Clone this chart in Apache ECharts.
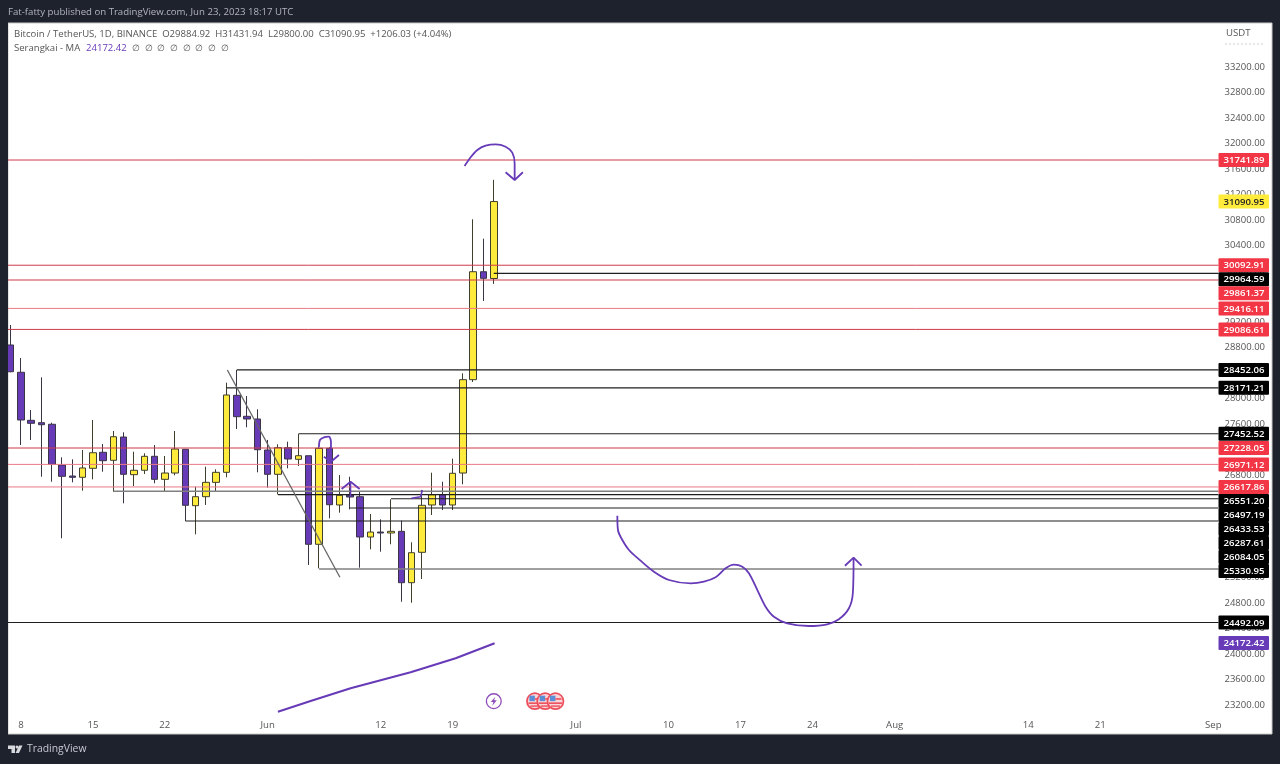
<!DOCTYPE html>
<html>
<head>
<meta charset="utf-8">
<title>BTCUSDT</title>
<script src="https://cdn.jsdelivr.net/npm/echarts@6/dist/echarts.min.js"></script>
<style>
html, body { margin: 0; padding: 0; background: #1e222d; }
#main { width: 1280px; height: 764px; }
</style>
</head>
<body>
<div id="main"></div>
<script>
// candle values, May 7 to Jun 23 2023
var opens = [28843, 28415, 27662, 27625, 27600, 26962, 26789, 26769, 26910, 27161, 27035, 27400,
    26810, 26879, 27098, 26737, 26836, 27208, 26324, 26465, 26690, 26847, 28054, 27725,
    27683, 27197, 26816, 27233, 27051, 27107, 25719, 27223, 26335, 26491, 26465, 25833,
    25911, 25896, 25922, 25117, 25593, 26335, 26496, 26335, 26836, 28299, 29991, 29884.92];
var closes = [28424, 27667, 27615, 27593, 26973, 26784, 26769, 26915, 27154, 27029, 27405, 26816,
    26879, 27098, 26737, 26836, 27212, 26330, 26465, 26690, 26847, 28059, 27719, 27683,
    27201, 26816, 27233, 27056, 27107, 25719, 27223, 26339, 26487, 26460, 25833, 25911,
    25896, 25922, 25117, 25587, 26330, 26496, 26335, 26832, 28299, 29991, 29888, 31090.95];
var lows = [28415, 27275, 27354, 26778, 26700, 25813, 26690, 26559, 26737, 26857, 26543, 26361,
    26632, 26821, 26675, 26543, 26800, 26084, 25875, 26335, 26543, 26769, 27526, 27553,
    26847, 26606, 26502, 26910, 26946, 25394, 25342, 26126, 26214, 26267, 25352, 25640,
    25603, 25719, 24819, 24803, 25175, 26178, 26256, 26256, 26659, 28263, 29532, 29800];
var highs = [29156, 28639, 27824, 28336, 27625, 27082, 27051, 27197, 27667, 27291, 27495, 27474,
    27170, 27145, 27275, 27103, 27495, 27212, 26622, 26935, 26894, 28252, 28451, 28043,
    27835, 27354, 27286, 27327, 27447, 27107, 27240, 27240, 26805, 26778, 26543, 26194,
    26110, 26424, 26089, 25750, 26570, 26841, 26700, 27060, 28399, 30813, 30509, 31431.94];

// x axis, one category per day
var firstDay = Date.UTC(2023, 4, 7);
var dayCount = 118;
var tickDates = ['05-08', '05-15', '05-22', '06-01', '06-12', '06-19', '07-01', '07-10', '07-17', '07-24', '08-01', '08-14', '08-21', '09-01'];
var tickLabels = ['8', '15', '22', 'Jun', '12', '19', 'Jul', '10', '17', '24', 'Aug', '14', '21', 'Sep'];

// price levels; starts are day indexes, -0.5 is the left edge
var redLevels = [31741.89, 30092.91, 29861.37, 29416.11, 29086.61, 27228.05, 26971.12, 26617.86];
var blackLevels = [29964.59, 28452.06, 28171.21, 27452.52, 26497.19, 26433.53, 26287.61, 26084.05, 24492.09];
var blackStarts = [47, 22, 21, 28, 26, 37, 33, 17, -0.5];
var greyLevels = [26551.20, 25330.95];
var greyStarts = [10, 30];
var lastClose = 31090.95;
var maValue = 24172.42;

// moving average, [day index, price]
var maLine = [[26, 23095], [29.18, 23263], [33.07, 23462], [38.91, 23713], [43.29, 23932], [47.08, 24167]];

// hand drawn marks, [day index, price]
var trendLine = [[21.08, 28451], [32.03, 25202]];
var topCurve = [[44.16, 31648], [44.75, 31785], [45.4, 31899], [46.2, 31966], [47.18, 31988], [48.15, 31951], [48.8, 31857], [49.03, 31691], [49.03, 31429]];
var topArrow = [[48.15, 31550], [49.03, 31429], [49.83, 31550]];
var waveCurve = [[59.02, 26167], [59.08, 25943], [59.41, 25813], [60.15, 25629], [61.28, 25462], [62.58, 25289], [64.04, 25159],
    [66.15, 25107], [67.44, 25132], [68.58, 25201], [69.55, 25342], [70.36, 25399], [71.18, 25368], [71.82, 25264], [72.64, 25002],
    [73.44, 24741], [74.25, 24584], [75.55, 24480], [77.65, 24438], [79.44, 24465], [80.57, 24543], [81.55, 24716], [81.93, 24951], [82, 25499]];
var waveArrow = [[81.16, 25383], [82, 25509], [82.78, 25383]];
var hookCurve = [[29.99, 27239], [30.09, 27354], [30.48, 27396], [30.96, 27405], [31.16, 27327], [31.16, 27013]];
var hookArrow = [[30.48, 27092], [31.16, 27013], [31.94, 27118]];
var smallShaft = [[33.07, 26476], [33.07, 26700]];
var smallArrow = [[32.2, 26585], [33.07, 26700], [33.95, 26585]];
var smallTick = [[38.98, 26439], [39.88, 26465], [40.05, 26570]];

// event icons
var boltDays = [47];
var flagDays = [51, 52, 53];
var iconPrice = 23260;

var categories = [];
for (var i = 0; i < dayCount; i++) {
    categories.push(new Date(firstDay + i * 86400000).toISOString().slice(5, 10));
}

var candles = [];
for (var i = 0; i < opens.length; i++) {
    candles.push([opens[i], closes[i], lows[i], highs[i]]);
}

var PURPLE = '#673ab7';
var FONT = '"Open Sans", "Noto Sans", sans-serif';

function drawing(data, color, width, smooth) {
    return {
        type: 'line',
        xAxisIndex: 1,
        yAxisIndex: 0,
        data: data,
        smooth: smooth ? 0.3 : false,
        symbol: 'none',
        silent: true,
        z: 5,
        lineStyle: {color: color, width: width}
    };
}

var series = [{
    type: 'candlestick',
    xAxisIndex: 0,
    yAxisIndex: 0,
    data: candles,
    barWidth: 7,
    z: 3,
    itemStyle: {
        color: '#ffeb3b',
        color0: PURPLE,
        borderColor: '#3f3f2c',
        borderColor0: '#3a3546',
        borderWidth: 1
    }
}];

// rays running out to the price scale
redLevels.forEach(function (p, i) {
    var pale = i === 3 || i === 6 || i === 7;
    series.push(drawing([[-0.5, p], [117.5, p]], pale ? '#e97a86' : '#cf3a4b', 1));
});
blackLevels.forEach(function (p, i) {
    series.push(drawing([[blackStarts[i], p], [117.5, p]], '#1f1f1f', 1.1));
});
greyLevels.forEach(function (p, i) {
    series.push(drawing([[greyStarts[i], p], [117.5, p]], '#808080', 1.6));
});

series.push(drawing(trendLine, '#666666', 1.3));
series.push(drawing(maLine, PURPLE, 2));
series.push(drawing(topCurve, PURPLE, 1.8, true));
series.push(drawing(topArrow, PURPLE, 1.8));
series.push(drawing(waveCurve, PURPLE, 1.8, true));
series.push(drawing(waveArrow, PURPLE, 1.8));
series.push(drawing(hookCurve, PURPLE, 1.8, true));
series.push(drawing(hookArrow, PURPLE, 1.8));
series.push(drawing(smallShaft, PURPLE, 1.4));
series.push(drawing(smallArrow, PURPLE, 1.8));
series.push(drawing(smallTick, PURPLE, 1.6));

// price tags on the scale; they push each other down when too close
var tags = [];
redLevels.forEach(function (p) { tags.push({price: p, fill: '#f23645', text: '#ffffff'}); });
blackLevels.concat(greyLevels).forEach(function (p) { tags.push({price: p, fill: '#000000', text: '#ffffff'}); });
tags.push({price: lastClose, fill: '#ffeb3b', text: '#222222'});
tags.push({price: maValue, fill: PURPLE, text: '#ffffff'});
tags.sort(function (a, b) { return b.price - a.price; });

var lastTagY = 0;
series.push({
    type: 'custom',
    xAxisIndex: 1,
    yAxisIndex: 0,
    z: 60,
    silent: true,
    clip: false,
    data: tags.map(function (t) { return [117.5, t.price]; }),
    encode: {x: 0, y: 1},
    renderItem: function (params, api) {
        var pt = api.coord([api.value(0), api.value(1)]);
        if (params.dataIndex === 0) {
            lastTagY = -100;
        }
        var y = Math.max(pt[1], lastTagY + 14);
        lastTagY = y;
        var tag = tags[params.dataIndex];
        return {
            type: 'group',
            children: [{
                type: 'rect',
                shape: {x: pt[0], y: y - 7, width: 50.5, height: 14, r: 1},
                style: {fill: tag.fill}
            }, {
                type: 'text',
                style: {
                    x: pt[0] + 25.5,
                    y: y + 0.5,
                    text: api.value(1).toFixed(2),
                    fill: tag.text,
                    font: '600 9.6px ' + FONT,
                    align: 'center',
                    verticalAlign: 'middle'
                }
            }]
        };
    }
});

// lightning icon
series.push({
    type: 'custom',
    xAxisIndex: 1,
    yAxisIndex: 0,
    z: 8,
    silent: true,
    data: boltDays.map(function (d) { return [d, iconPrice]; }),
    renderItem: function (params, api) {
        var c = api.coord([api.value(0), api.value(1)]);
        return {
            type: 'group',
            x: c[0],
            y: c[1],
            children: [{
                type: 'circle',
                shape: {cx: 0, cy: 0, r: 7.4},
                style: {fill: '#ffffff', stroke: '#8e4cb8', lineWidth: 1.3}
            }, {
                type: 'polygon',
                shape: {points: [[1.5, -4.5], [-3, 0.8], [-0.4, 0.8], [-1.5, 4.5], [3, -1], [0.3, -1]]},
                style: {fill: '#8e4cb8'}
            }]
        };
    }
});

// US flag icons
series.push({
    type: 'custom',
    xAxisIndex: 1,
    yAxisIndex: 0,
    z: 8,
    silent: true,
    data: flagDays.map(function (d) { return [d, iconPrice]; }),
    renderItem: function (params, api) {
        var c = api.coord([api.value(0), api.value(1)]);
        return {
            type: 'group',
            x: c[0],
            y: c[1],
            children: [{
                type: 'circle',
                shape: {cx: 0, cy: 0, r: 8},
                style: {fill: '#f9d6d9', stroke: '#ec4e5b', lineWidth: 1.7}
            }, {
                type: 'rect',
                shape: {x: -5.5, y: -5.5, width: 5.5, height: 5.5},
                style: {fill: '#5d8fd6'}
            }, {
                type: 'rect',
                shape: {x: -6.5, y: 1.2, width: 13, height: 1.6},
                style: {fill: '#ec4e5b'}
            }, {
                type: 'rect',
                shape: {x: -4.5, y: 4.2, width: 9, height: 1.4},
                style: {fill: '#ec4e5b'}
            }, {
                type: 'rect',
                shape: {x: 0, y: -3, width: 6, height: 1.6},
                style: {fill: '#ec4e5b'}
            }]
        };
    }
});

function label(text, x, y, color, size) {
    return {
        type: 'text',
        x: x,
        y: y,
        z: 110,
        silent: true,
        style: {text: text, fill: color, font: (size || 9.6) + 'px ' + FONT, verticalAlign: 'middle'}
    };
}

var graphics = [
    // white chart panel under the series, dark strips over the overflow
    {type: 'rect', z: -10, silent: true, shape: {x: 8, y: 23, width: 1264, height: 711}, style: {fill: '#ffffff', stroke: '#c8c8c8', lineWidth: 1}},
    {type: 'rect', z: 100, silent: true, shape: {x: 0, y: 0, width: 8, height: 764}, style: {fill: '#1e222d'}},
    label('Fat-fatty published on TradingView.com, Jun 23, 2023 18:17 UTC', 8, 12, '#b2b5be', 9.65),
    label('Bitcoin / TetherUS, 1D, BINANCE  O29884.92  H31431.94  L29800.00  C31090.95  +1206.03 (+4.04%)', 14, 34, '#555555', 9.55),
    label('Serangkai - MA', 14, 48, '#555555', 9.55),
    label('24172.42', 86, 48, PURPLE, 9.55),
    label('\u2205  \u2205  \u2205  \u2205  \u2205  \u2205  \u2205  \u2205', 132, 48, '#555555', 9),
    label('USDT', 1226, 33, '#555555', 9.6),
    {type: 'line', z: 110, silent: true, shape: {x1: 1225, y1: 44, x2: 1263, y2: 44}, style: {stroke: '#d0d0d0', lineWidth: 1, lineDash: [2, 2]}},
    label('TradingView', 27, 749.5, '#c8cad0', 10.4),
    // logo
    {type: 'polygon', z: 110, silent: true, shape: {points: [[8, 745.5], [15, 745.5], [15, 753], [11.5, 753], [11.5, 749], [8, 749]]}, style: {fill: '#d8d9dc'}},
    {type: 'circle', z: 110, silent: true, shape: {cx: 17, cy: 747, r: 1.5}, style: {fill: '#d8d9dc'}},
    {type: 'polygon', z: 110, silent: true, shape: {points: [[19, 745.5], [22.5, 745.5], [19, 753], [15.6, 753]]}, style: {fill: '#d8d9dc'}}
];

var option = {
    animation: false,
    backgroundColor: '#1e222d',
    grid: {left: 5.5, right: 61.5, top: 41.48, bottom: 33.48},
    tooltip: {show: false},
    xAxis: [{
        type: 'category',
        data: categories,
        axisLine: {show: false},
        axisTick: {show: false},
        splitLine: {show: false},
        axisLabel: {
            inside: true,
            margin: 0.5,
            color: '#555555',
            fontFamily: FONT,
            fontSize: 9.6,
            hideOverlap: false,
            interval: function (index, value) {
                return tickDates.indexOf(value) >= 0;
            },
            formatter: function (value) {
                return tickLabels[tickDates.indexOf(value)];
            }
        }
    }, {
        type: 'value',
        show: false,
        min: -0.5,
        max: 117.5
    }],
    yAxis: [{
        type: 'value',
        position: 'right',
        min: 22800,
        max: 33600,
        interval: 400,
        z: 1,
        axisLine: {show: false},
        axisTick: {show: false},
        splitLine: {show: false},
        axisLabel: {
            show: true,
            margin: 6,
            padding: [2, 0, 0, 0],
            color: '#555555',
            fontFamily: FONT,
            fontSize: 9.5,
            showMinLabel: false,
            showMaxLabel: false,
            formatter: function (v) {
                return v.toFixed(2);
            }
        }
    }],
    graphic: {elements: graphics},
    series: series
};

var chart = echarts.init(document.getElementById('main'));
chart.setOption(option);
</script>
</body>
</html>
